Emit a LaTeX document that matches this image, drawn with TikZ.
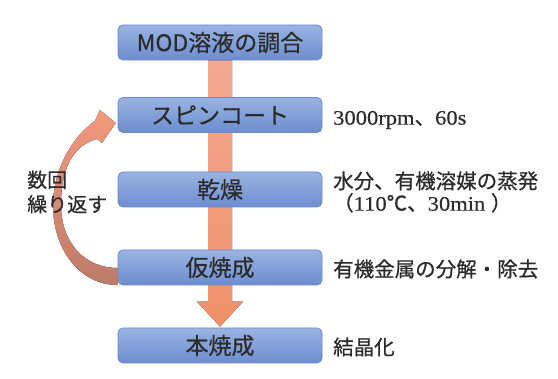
\documentclass[tikz,border=0pt]{standalone}
\usepackage{fontspec}
\usetikzlibrary{calc}
\newfontfamily\jp[FakeBold=0.6]{Noto Sans CJK JP}
\newfontfamily\ser[FakeStretch=1.1,FakeBold=0.4]{Liberation Serif}
\definecolor{boxtop}{HTML}{9AB3E2}
\definecolor{boxbot}{HTML}{6C8DCF}
\definecolor{boxedge}{HTML}{6A8ACB}
\definecolor{txt}{HTML}{2B2B2B}
\definecolor{bartop}{HTML}{F3A892}
\definecolor{barbot}{HTML}{EF9169}
\definecolor{curvetop}{HTML}{F29A7C}
\definecolor{curvebot}{HTML}{BE7A6A}
\pgfdeclarelayer{bg}
\pgfsetlayers{bg,main}
\begin{document}
\begin{tikzpicture}[x=1pt,y=-1pt,
  stepbox/.style={rounded corners=5pt, draw=boxedge, line width=0.8pt,
    top color=boxtop, bottom color=boxbot, minimum width=204pt,
    minimum height=35pt, inner sep=0pt, text=txt,
    font=\jp\fontsize{23}{23}\selectfont},
  note/.style={anchor=west, inner sep=0pt, text=txt, align=left,
    font=\jp\fontsize{20.5}{22}\selectfont},
  lnote/.style={anchor=west, inner sep=0pt, text=txt, align=left,
    font=\jp\fontsize{20}{24.5}\selectfont},
  barshade/.style={top color=bartop, bottom color=barbot},
  curveshade/.style={top color=curvetop, bottom color=curvebot}]
\useasboundingbox (0,0) rectangle (558,379);

\node[stepbox] (b1) at (220,42.5) {MOD溶液の調合};
\node[stepbox] (b2) at (220,115) {スピンコート};
\node[stepbox] (b3) at (220,189.5) {乾燥};
\node[stepbox] (b4) at (220,267.5) {仮焼成};
\node[stepbox] (b5) at (220,345.5) {本焼成};

\node[note] (t2) at (333,120) {{\ser 3000rpm}、{\ser 60s}};
\node[note] (t3) at (333,192) {水分、有機溶媒の蒸発\\（{\ser 110}℃、{\ser 30min }）};
\node[note] (t4) at (333,269) {有機金属の分解・除去};
\node[note] (t5) at (333,347) {結晶化};
\node[lnote] (rep) at (27,192) {数回\\繰り返す};

\begin{pgfonlayer}{bg}
\fill[white] (0,0) rectangle (558,379);
% curved return arrow from b4 to b2
\fill[curveshade] ($(b4.west)+(0,17.5)$)
  .. controls (80,285) and (53,250) .. (53,205)
  .. controls (53,175) and (68,140) .. (95,121)
  -- (100,110) -- ($(b2.west)+(-2,8)$) -- (102,143) -- (97,139)
  .. controls (75,145) and (61,165) .. (61,205)
  .. controls (61,242) and (84,268) .. ($(b4.west)+(0,0.5)$) -- cycle;
% main downward arrow b1 -> b5
\fill[barshade] ($(b1.south)+(-12,0)$) -- ($(b1.south)+(12,0)$)
  -- ($(b5.north)+(12,-26)$) -- ($(b5.north)+(23,-26)$)
  -- ($(b5.north)+(0,-1)$) -- ($(b5.north)+(-23,-26)$)
  -- ($(b5.north)+(-12,-26)$) -- cycle;
\end{pgfonlayer}
\end{tikzpicture}
\end{document}
